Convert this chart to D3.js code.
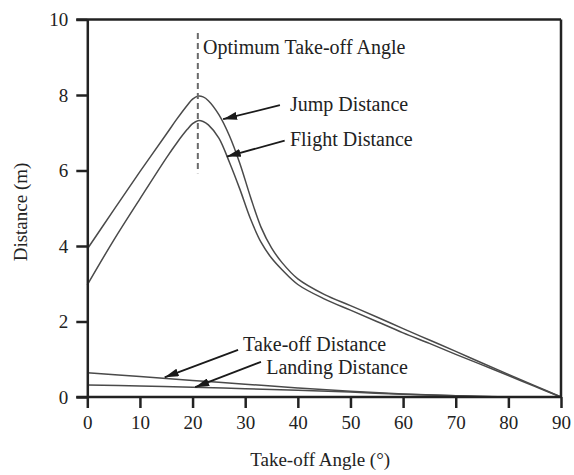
<!DOCTYPE html>
<html>
<head>
<meta charset="utf-8">
<script src="https://cdn.jsdelivr.net/npm/d3@7"></script>
<style>
  body { margin: 0; background: #fff; }
  text { font-family: "Liberation Serif", "Times New Roman", serif; fill: #222; }
</style>
</head>
<body>
<div id="chart"></div>
<script>
// take-off angle (deg) for each sample
var angles = [0, 5, 10, 15, 17, 19, 20, 21, 22, 23, 25, 27, 29, 31, 33, 35, 37, 40, 45, 50, 55, 60, 65, 70, 75, 80, 85, 90]
var jumpDist = [3.92, 4.95, 5.97, 6.96, 7.36, 7.73, 7.89, 7.97, 7.95, 7.85, 7.48, 6.92, 6.18, 5.3, 4.5, 3.95, 3.56, 3.13, 2.72, 2.42, 2.12, 1.81, 1.51, 1.21, 0.9, 0.6, 0.3, 0]
var flightDist = [2.97, 4.15, 5.25, 6.33, 6.73, 7.09, 7.24, 7.32, 7.3, 7.21, 6.86, 6.22, 5.5, 4.72, 4.1, 3.68, 3.37, 2.98, 2.6, 2.3, 2.0, 1.7, 1.42, 1.13, 0.85, 0.57, 0.28, 0]

var lowAngles = [0, 10, 20, 30, 40, 50, 60, 70, 80]
var takeoffDist = [0.64, 0.54, 0.44, 0.34, 0.24, 0.15, 0.08, 0.03, 0]
var landingDist = [0.32, 0.29, 0.26, 0.22, 0.18, 0.13, 0.07, 0.03, 0]

var xTicks = [0, 10, 20, 30, 40, 50, 60, 70, 80, 90]
var yTicks = [0, 2, 4, 6, 8, 10]

var optimumAngle = 21

// annotations: label, text position, arrow start, arrow tip (data units)
var labels = [
  {text: "Jump Distance",     tx: 38.5, ty: 7.58, ax: 36.6, ay: 7.73, bx: 25.8, by: 7.36},
  {text: "Flight Distance",   tx: 38.5, ty: 6.65, ax: 37.5, ay: 6.79, bx: 26.5, by: 6.37},
  {text: "Take-off Distance", tx: 29.6, ty: 1.23, ax: 28.65, ay: 1.25, bx: 14.7, by: 0.52},
  {text: "Landing Distance",  tx: 34.0, ty: 0.6,  ax: 33.0, ay: 0.93, bx: 20.5, by: 0.26}
]

var margin = {top: 19.5, right: 13, bottom: 78, left: 87.3}
  , width = 574 - margin.left - margin.right
  , height = 475 - margin.top - margin.bottom

var x = d3.scaleLinear().domain([0, 90]).range([0, width])
var y = d3.scaleLinear().domain([0, 10]).range([height, 0])

var svg = d3.select('#chart').append('svg')
  .attr('width', 574)
  .attr('height', 475)

svg.append('defs').append('marker')
  .attr('id', 'head')
  .attr('viewBox', '0 0 14 8')
  .attr('refX', 14).attr('refY', 4)
  .attr('markerWidth', 14).attr('markerHeight', 8)
  .attr('markerUnits', 'userSpaceOnUse')
  .attr('orient', 'auto')
  .append('path')
  .attr('d', 'M0,0 L14,4 L0,8 Z')
  .attr('fill', '#1a1a1a')

var g = svg.append('g')
  .attr('transform', 'translate(' + margin.left + ',' + margin.top + ')')

// curves
var line = d3.line()
  .x(function(d) { return x(d[0]) })
  .y(function(d) { return y(d[1]) })
  .curve(d3.curveCatmullRom.alpha(0.5))

var series = [
  d3.zip(angles, jumpDist),
  d3.zip(angles, flightDist),
  d3.zip(lowAngles, takeoffDist),
  d3.zip(lowAngles, landingDist)
]

g.selectAll('.curve')
  .data(series)
  .enter().append('path')
  .attr('class', 'curve')
  .attr('d', line)
  .attr('fill', 'none')
  .attr('stroke', '#4a4a4a')
  .attr('stroke-width', 1.5)

// optimum angle marker
g.append('line')
  .attr('x1', x(optimumAngle)).attr('x2', x(optimumAngle))
  .attr('y1', y(9.64)).attr('y2', y(5.93))
  .attr('stroke', '#6a6a6a')
  .attr('stroke-width', 2)
  .attr('stroke-dasharray', '6,4')

g.append('text')
  .attr('x', x(22)).attr('y', y(9.08))
  .attr('font-size', 20)
  .text('Optimum Take-off Angle')

// labels with arrows
g.selectAll('.arrow')
  .data(labels)
  .enter().append('line')
  .attr('class', 'arrow')
  .attr('x1', function(d) { return x(d.ax) })
  .attr('y1', function(d) { return y(d.ay) })
  .attr('x2', function(d) { return x(d.bx) })
  .attr('y2', function(d) { return y(d.by) })
  .attr('stroke', '#1a1a1a')
  .attr('stroke-width', 1.8)
  .attr('marker-end', 'url(#head)')

g.selectAll('.lbl')
  .data(labels)
  .enter().append('text')
  .attr('class', 'lbl')
  .attr('x', function(d) { return x(d.tx) })
  .attr('y', function(d) { return y(d.ty) })
  .attr('font-size', 20)
  .text(function(d) { return d.text })

// frame
g.append('line')
  .attr('x1', -11).attr('x2', width)
  .attr('y1', 0).attr('y2', 0)
  .attr('stroke', '#222').attr('stroke-width', 2.5)
g.append('line')
  .attr('x1', width).attr('x2', width)
  .attr('y1', 0).attr('y2', height)
  .attr('stroke', '#222').attr('stroke-width', 2.5)

// axes
var xAxis = g.append('g')
  .attr('transform', 'translate(0,' + height + ')')
  .call(d3.axisBottom(x).tickValues(xTicks).tickSize(11).tickSizeOuter(0).tickPadding(8))
var yAxis = g.append('g')
  .call(d3.axisLeft(y).tickValues(yTicks).tickSize(11).tickSizeOuter(0).tickPadding(8))

;[xAxis, yAxis].forEach(function(a) {
  a.select('.domain').attr('stroke', '#222').attr('stroke-width', 2.5)
  a.selectAll('.tick line').attr('stroke', '#222').attr('stroke-width', 2.5)
  a.selectAll('.tick text')
    .attr('font-size', 19)
    .attr('font-family', '"Liberation Serif", serif')
    .attr('fill', '#222')
})
xAxis.select('.domain').attr('d', 'M-11,0H' + width)

// axis titles
svg.append('text')
  .attr('x', margin.left + width / 2 - 4)
  .attr('y', 466)
  .attr('text-anchor', 'middle')
  .attr('font-size', 19)
  .text('Take-off Angle (°)')

svg.append('text')
  .attr('transform', 'translate(27,' + 212 + ') rotate(-90)')
  .attr('text-anchor', 'middle')
  .attr('font-size', 19)
  .text('Distance (m)')
</script>
</body>
</html>
